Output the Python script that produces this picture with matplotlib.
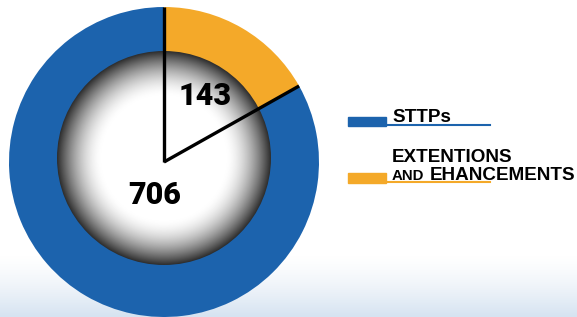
import numpy as np
import matplotlib
matplotlib.use("Agg")
import matplotlib.pyplot as plt
from matplotlib.colors import LinearSegmentedColormap
from matplotlib.patches import Circle, Rectangle

# data
labels = ["EXTENTIONS AND EHANCEMENTS", "STTPs"]
values = [143, 706]
colors = ["#f4a929", "#1c63ad"]

W, H = 577, 317
fig = plt.figure(figsize=(W / 100, H / 100), dpi=100)
ax = fig.add_axes([0, 0, 1, 1])

# light blue fade at the bottom of the slide (row 0 = bottom with origin lower)
rows = np.arange(H).reshape(-1, 1)
fade = np.clip((62 - rows) / 62.0, 0, 1) ** 1.4
bg_cmap = LinearSegmentedColormap.from_list("bg", ["white", "#d6e3f1"])
ax.imshow(fade, cmap=bg_cmap, extent=[0, W, 0, H], aspect="auto", origin="lower",
          vmin=0, vmax=1, zorder=0)

# donut ring
cx, cy, R = 164, 155, 155
ax.pie(values, colors=colors, startangle=90, counterclock=False, radius=R,
       center=(cx, cy), wedgeprops=dict(linewidth=0), frame=True)

# shaded inner disc
icx, icy, ir = 164, 159, 107
n = 400
yy, xx = np.mgrid[-1:1:n * 1j, -1:1:n * 1j]
rr = np.sqrt(xx ** 2 + yy ** 2)
shade = np.clip((rr - 0.58) / 0.42, 0, 1) ** 1.7
disc_cmap = LinearSegmentedColormap.from_list("disc", ["white", "#2e2e2e"])
im = ax.imshow(shade, cmap=disc_cmap, extent=[icx - ir, icx + ir, icy - ir, icy + ir],
               vmin=0, vmax=1, zorder=3)
im.set_clip_path(Circle((icx, icy), ir, transform=ax.transData))

# black radial lines at slice boundaries
total = sum(values)
angle = 90
for v in values:
    a = np.deg2rad(angle)
    ax.plot([cx, cx + R * np.cos(a)], [cy, cy + R * np.sin(a)], color="black",
            lw=2.4, solid_capstyle="butt", zorder=4)
    angle -= v / total * 360

# value labels
ax.text(205, 221, str(values[0]), fontsize=22, fontweight="heavy", family="Roboto",
        ha="center", va="center", zorder=5)
ax.text(155, 122, str(values[1]), fontsize=22, fontweight="heavy", family="Roboto",
        ha="center", va="center", zorder=5)

# legend
leg_font = "Liberation Sans"
ax.add_patch(Rectangle((348, H - 126), 38, 9, color=colors[1], zorder=5))
ax.plot([386, 490], [H - 125, H - 125], color=colors[1], lw=1.5, zorder=5)
ax.text(392, H - 122, labels[1], fontsize=13.6, fontweight="bold", family=leg_font,
        va="baseline", zorder=5)

ax.add_patch(Rectangle((348, H - 183), 38, 10, color=colors[0], zorder=5))
ax.plot([386, 490], [H - 182, H - 182], color=colors[0], lw=1.5, zorder=5)
ax.text(392, H - 162, "EXTENTIONS", fontsize=13.6, fontweight="bold", family=leg_font,
        va="baseline", zorder=5)
ax.text(392, H - 180, "AND", fontsize=10.8, fontweight="bold", family=leg_font,
        va="baseline", zorder=5)
ax.text(430, H - 180, "EHANCEMENTS", fontsize=13.6, fontweight="bold", family=leg_font,
        va="baseline", zorder=5)

ax.set_xlim(0, W)
ax.set_ylim(0, H)
ax.set_aspect("auto")
ax.axis("off")

fig.savefig("out.png", dpi=100)
